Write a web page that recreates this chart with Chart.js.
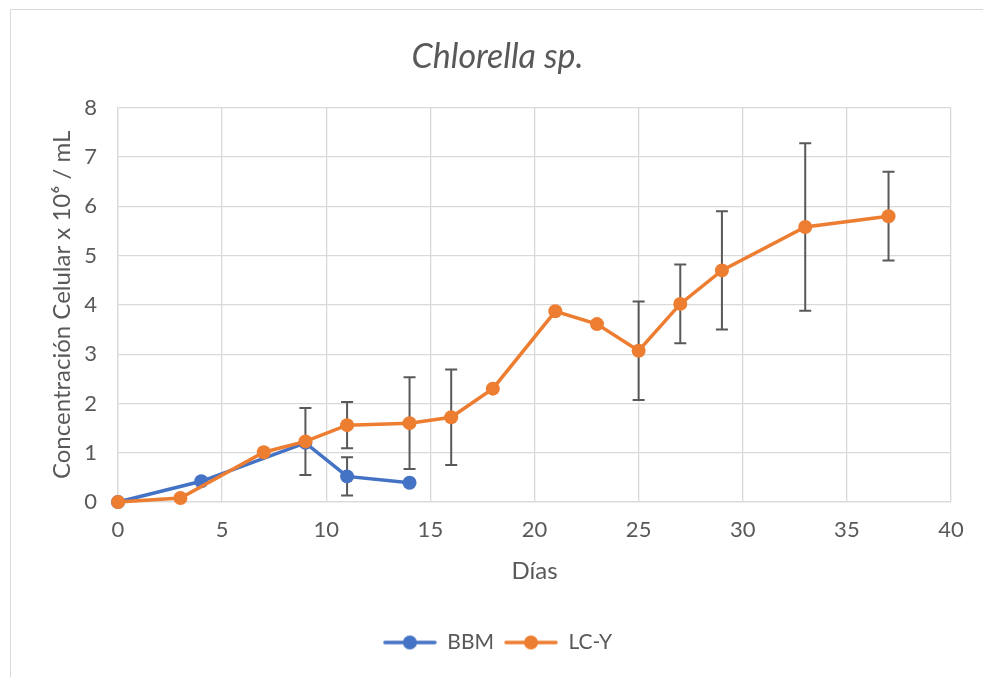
<!DOCTYPE html>
<html>
<head>
<meta charset="utf-8">
<script src="https://cdn.jsdelivr.net/npm/chart.js@4"></script>
<style>
  html, body { margin: 0; padding: 0; background: #fff; }
  #wrap { width: 983px; height: 677px; }
</style>
</head>
<body>
<div id="wrap"><canvas id="chart" width="983" height="677"></canvas></div>
<script>
// datos
const bbmDays = [0, 4, 9, 11, 14];
const bbmValues = [0, 0.42, 1.20, 0.52, 0.39];
const bbmErrors = [null, null, null, 0.39, null];

const lcyDays = [0, 3, 7, 9, 11, 14, 16, 18, 21, 23, 25, 27, 29, 33, 37];
const lcyValues = [0, 0.08, 1.01, 1.23, 1.56, 1.60, 1.72, 2.30, 3.87, 3.61, 3.07, 4.02, 4.70, 5.58, 5.80];
const lcyErrors = [null, null, null, 0.68, 0.47, 0.93, 0.97, null, null, null, 1.0, 0.8, 1.2, 1.7, 0.9];

const xTicks = [0, 5, 10, 15, 20, 25, 30, 35, 40];
const yTicks = [0, 1, 2, 3, 4, 5, 6, 7, 8];

const BLUE = "#4472C4";
const ORANGE = "#ED7D31";
const TEXT = "#595959";
const GRID = "#D9D9D9";
const FONT = "Lato, 'Open Sans', sans-serif";

function toPoints(xs, ys) {
    return xs.map((x, i) => ({ x: x, y: ys[i] }));
}

// icono de leyenda: línea con marcador
function legendIcon(color) {
    const c = document.createElement("canvas");
    c.width = 54; c.height = 16;
    const g = c.getContext("2d");
    g.strokeStyle = color;
    g.lineWidth = 3.5;
    g.lineCap = "round";
    g.beginPath(); g.moveTo(2, 8); g.lineTo(52, 8); g.stroke();
    g.fillStyle = color;
    g.beginPath(); g.arc(27, 8, 7, 0, Math.PI * 2); g.fill();
    return c;
}

// barras de error
const errorBars = {
    id: "errorBars",
    beforeDatasetsDraw(chart) {
        const ctx = chart.ctx;
        const xs = chart.scales.x, ys = chart.scales.y;
        ctx.save();
        ctx.strokeStyle = TEXT;
        ctx.lineWidth = 2;
        chart.data.datasets.forEach(ds => {
            (ds.errors || []).forEach((e, i) => {
                if (e == null) return;
                const p = ds.data[i];
                const px = xs.getPixelForValue(p.x);
                const top = ys.getPixelForValue(p.y + e);
                const bot = ys.getPixelForValue(p.y - e);
                ctx.beginPath();
                ctx.moveTo(px, top); ctx.lineTo(px, bot);
                ctx.moveTo(px - 6, top); ctx.lineTo(px + 6, top);
                ctx.moveTo(px - 6, bot); ctx.lineTo(px + 6, bot);
                ctx.stroke();
            });
        });
        ctx.restore();
    }
};

// marco del gráfico
const frame = {
    id: "frame",
    beforeDraw(chart) {
        const ctx = chart.ctx;
        ctx.save();
        ctx.fillStyle = "#fff";
        ctx.fillRect(0, 0, chart.width, chart.height);
        ctx.strokeStyle = GRID;
        ctx.lineWidth = 1;
        ctx.beginPath();
        ctx.moveTo(10.5, chart.height); ctx.lineTo(10.5, 9.5); ctx.lineTo(chart.width, 9.5);
        ctx.stroke();
        ctx.restore();
    }
};

const chart = new Chart(document.getElementById("chart"), {
    type: "scatter",
    data: {
        datasets: [
            {
                label: "BBM",
                data: toPoints(bbmDays, bbmValues),
                errors: bbmErrors,
                showLine: true,
                order: 1,
                clip: false,
                borderColor: BLUE,
                backgroundColor: BLUE,
                borderWidth: 3.5,
                pointRadius: 7,
                pointHoverRadius: 7,
                pointBorderWidth: 0
            },
            {
                label: "LC-Y",
                data: toPoints(lcyDays, lcyValues),
                errors: lcyErrors,
                showLine: true,
                order: 0,
                clip: false,
                borderColor: ORANGE,
                backgroundColor: ORANGE,
                borderWidth: 3.5,
                pointRadius: 7,
                pointHoverRadius: 7,
                pointBorderWidth: 0
            }
        ]
    },
    options: {
        responsive: false,
        animation: false,
        devicePixelRatio: 1,
        layout: { padding: { left: 44, right: 32, top: 18, bottom: 14 } },
        plugins: {
            title: {
                display: true,
                text: "Chlorella sp.",
                color: TEXT,
                font: { family: FONT, size: 34, style: "italic", weight: "normal" },
                padding: { top: 19, bottom: 30 }
            },
            legend: {
                position: "bottom",
                labels: {
                    usePointStyle: true,
                    pointStyleWidth: 54,
                    color: TEXT,
                    font: { family: FONT, size: 21 },
                    padding: 10,
                    generateLabels: c => c.data.datasets.map((ds, i) => ({
                        text: ds.label,
                        pointStyle: legendIcon(ds.borderColor),
                        fillStyle: ds.borderColor,
                        strokeStyle: ds.borderColor,
                        lineWidth: 0,
                        fontColor: TEXT,
                        hidden: false,
                        datasetIndex: i
                    }))
                }
            },
            tooltip: { enabled: false }
        },
        scales: {
            x: {
                type: "linear",
                min: xTicks[0],
                max: xTicks[xTicks.length - 1],
                afterBuildTicks: s => { s.ticks = xTicks.map(v => ({ value: v })); },
                afterFit: s => { s.height = 120; },
                ticks: { color: TEXT, font: { family: FONT, size: 22 }, padding: 15, maxRotation: 0 },
                grid: { color: GRID, lineWidth: 1.3, drawTicks: false },
                border: { color: GRID, width: 1.3 },
                title: {
                    display: true,
                    text: "Días",
                    color: TEXT,
                    font: { family: FONT, size: 24 },
                    padding: { top: 4, bottom: 36 }
                }
            },
            y: {
                type: "linear",
                min: yTicks[0],
                max: yTicks[yTicks.length - 1],
                afterBuildTicks: s => { s.ticks = yTicks.map(v => ({ value: v })); },
                afterFit: s => { s.width = 74; },
                ticks: { color: TEXT, font: { family: FONT, size: 22 }, padding: 21 },
                grid: { color: GRID, lineWidth: 1.3, drawTicks: false },
                border: { color: GRID, width: 1.3 },
                title: {
                    display: true,
                    text: "Concentración Celular x 10⁶ / mL",
                    color: TEXT,
                    font: { family: FONT, size: 24 },
                    padding: { top: 4, bottom: 4 }
                }
            }
        }
    },
    plugins: [frame, errorBars]
});
</script>
</body>
</html>
